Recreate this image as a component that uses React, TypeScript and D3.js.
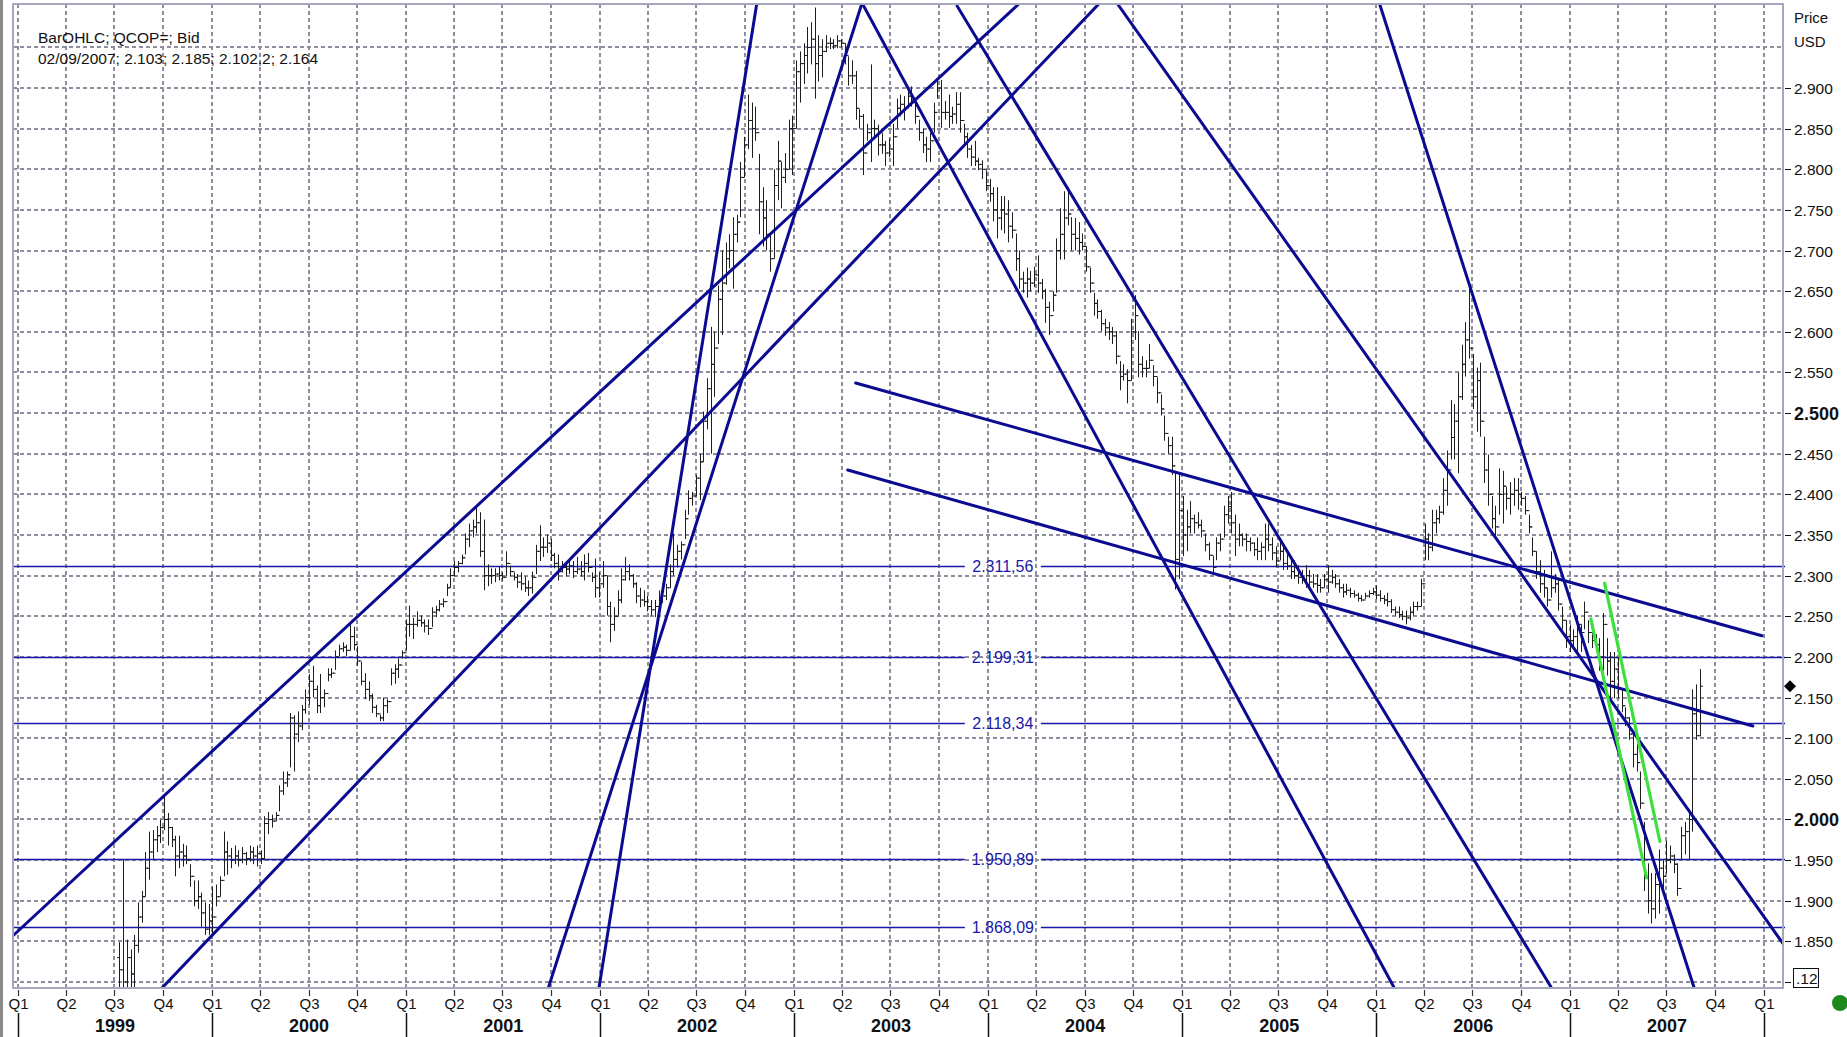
import React from "react";
import * as d3 from "d3";

type Bar = [number, number, number]; // high, low, close (open = previous close)

const bars1999: Bar[] = [
  [1.849,1.785,1.815],[1.951,1.785,1.800],[1.852,1.785,1.830],[1.840,1.785,1.810],[1.858,1.790,1.845],
  [1.898,1.836,1.880],[1.912,1.873,1.905],[1.960,1.905,1.940],[1.985,1.926,1.960],[1.987,1.950,1.975],
  [1.992,1.960,1.980],[2.000,1.971,1.990],[2.030,1.987,2.000],[2.008,1.968,1.990],[1.991,1.966,1.975],
  [1.980,1.930,1.955],[1.980,1.940,1.960],[1.970,1.942,1.955],[1.968,1.945,1.950],[1.945,1.917,1.930],
  [1.925,1.893,1.900],[1.925,1.890,1.905],[1.910,1.868,1.885],[1.898,1.858,1.865],[1.896,1.858,1.875],
];

const bars2000: Bar[] = [
  [1.917,1.860,1.880],[1.920,1.893,1.905],[1.930,1.905,1.925],[1.985,1.930,1.960],[1.973,1.932,1.955],
  [1.965,1.940,1.950],[1.968,1.945,1.955],[1.962,1.942,1.950],[1.966,1.946,1.958],[1.960,1.944,1.952],
  [1.968,1.948,1.960],[1.966,1.945,1.955],[1.968,1.942,1.958],[1.962,1.945,1.952],[2.004,1.950,1.995],
  [2.009,1.982,2.000],[2.006,1.990,1.998],[2.009,1.998,2.005],[2.042,2.010,2.035],[2.059,2.030,2.045],
  [2.059,2.040,2.055],[2.131,2.064,2.125],[2.128,2.059,2.105],[2.133,2.095,2.115],[2.141,2.110,2.135],
  [2.160,2.130,2.150],[2.179,2.141,2.170],[2.189,2.150,2.160],[2.165,2.131,2.140],[2.179,2.131,2.150],
  [2.160,2.138,2.155],[2.186,2.170,2.178],[2.186,2.174,2.180],[2.208,2.184,2.200],[2.215,2.201,2.210],
  [2.218,2.206,2.212],[2.215,2.201,2.208],[2.242,2.208,2.225],[2.237,2.208,2.215],[2.213,2.189,2.195],
  [2.194,2.165,2.170],[2.180,2.148,2.160],[2.170,2.146,2.152],[2.155,2.131,2.138],[2.141,2.126,2.130],
  [2.129,2.121,2.125],[2.150,2.121,2.140],[2.148,2.131,2.145],[2.186,2.165,2.180],[2.191,2.167,2.185],
  [2.198,2.174,2.190],[2.208,2.198,2.205],[2.246,2.208,2.240],
];

const bars2001: Bar[] = [
  [2.263,2.225,2.240],[2.248,2.222,2.240],[2.256,2.237,2.245],[2.251,2.237,2.242],[2.246,2.230,2.238],
  [2.246,2.227,2.235],[2.261,2.237,2.255],[2.263,2.249,2.258],[2.270,2.256,2.265],[2.272,2.261,2.268],
  [2.290,2.275,2.285],[2.309,2.285,2.300],[2.318,2.299,2.310],[2.318,2.304,2.315],[2.326,2.314,2.322],
  [2.352,2.326,2.345],[2.364,2.335,2.355],[2.369,2.347,2.360],[2.386,2.352,2.365],[2.378,2.323,2.330],
  [2.369,2.282,2.300],[2.314,2.287,2.300],[2.309,2.290,2.300],[2.309,2.292,2.302],[2.311,2.294,2.300],
  [2.304,2.294,2.298],[2.330,2.300,2.315],[2.312,2.299,2.305],[2.304,2.294,2.298],[2.302,2.285,2.292],
  [2.304,2.282,2.290],[2.299,2.280,2.285],[2.294,2.275,2.285],[2.305,2.278,2.298],[2.338,2.302,2.330],
  [2.362,2.318,2.335],[2.347,2.323,2.335],[2.350,2.328,2.340],[2.345,2.318,2.325],[2.328,2.309,2.315],
  [2.326,2.294,2.305],[2.318,2.304,2.310],[2.318,2.299,2.308],[2.321,2.302,2.312],[2.318,2.297,2.305],
  [2.323,2.302,2.308],[2.318,2.299,2.305],[2.326,2.294,2.315],[2.328,2.304,2.310],[2.304,2.292,2.298],
  [2.321,2.273,2.285],[2.304,2.273,2.290],
];

const bars2002: Bar[] = [
  [2.318,2.285,2.300],[2.300,2.251,2.262],[2.268,2.218,2.240],[2.261,2.232,2.250],[2.282,2.251,2.270],
  [2.309,2.266,2.295],[2.323,2.294,2.305],[2.314,2.294,2.300],[2.302,2.285,2.290],[2.292,2.266,2.275],
  [2.285,2.261,2.270],[2.282,2.262,2.268],[2.275,2.256,2.262],[2.270,2.251,2.258],[2.270,2.249,2.262],
  [2.282,2.258,2.272],[2.280,2.266,2.275],[2.290,2.270,2.285],[2.314,2.285,2.305],[2.352,2.300,2.320],
  [2.338,2.310,2.330],[2.342,2.320,2.338],[2.381,2.345,2.370],[2.405,2.375,2.395],[2.403,2.386,2.398],
  [2.424,2.398,2.420],[2.450,2.393,2.440],[2.502,2.440,2.490],[2.543,2.480,2.530],[2.606,2.450,2.560],
  [2.600,2.520,2.580],[2.657,2.585,2.640],[2.700,2.596,2.660],[2.710,2.658,2.690],[2.720,2.678,2.700],
  [2.741,2.653,2.720],[2.744,2.710,2.735],[2.809,2.741,2.790],[2.840,2.790,2.830],[2.892,2.825,2.860],
  [2.882,2.814,2.850],[2.877,2.835,2.845],[2.819,2.720,2.760],[2.778,2.705,2.740],[2.762,2.700,2.720],
  [2.720,2.674,2.690],[2.800,2.690,2.780],[2.835,2.762,2.810],[2.809,2.752,2.790],[2.820,2.783,2.800],
  [2.861,2.800,2.850],[2.866,2.793,2.850],
];

const bars2003: Bar[] = [
  [2.934,2.850,2.920],[2.945,2.882,2.930],[2.955,2.905,2.940],[2.975,2.918,2.950],[2.981,2.929,2.960],
  [2.999,2.887,2.930],[2.965,2.908,2.940],[2.960,2.913,2.945],[2.965,2.944,2.955],[2.962,2.948,2.955],
  [2.960,2.948,2.952],[2.965,2.949,2.958],[2.960,2.950,2.955],[2.955,2.929,2.940],[2.939,2.903,2.915],
  [2.934,2.905,2.915],[2.921,2.861,2.875],[2.874,2.850,2.865],[2.868,2.793,2.820],[2.856,2.835,2.845],
  [2.929,2.809,2.850],[2.861,2.840,2.850],[2.855,2.817,2.830],[2.845,2.819,2.830],[2.835,2.804,2.820],
  [2.838,2.815,2.825],[2.856,2.804,2.840],[2.887,2.850,2.875],[2.892,2.865,2.880],[2.890,2.860,2.875],
  [2.900,2.879,2.890],[2.902,2.877,2.885],[2.887,2.856,2.865],[2.861,2.835,2.845],[2.850,2.820,2.830],
  [2.840,2.809,2.825],[2.845,2.809,2.835],[2.882,2.845,2.870],[2.910,2.887,2.900],[2.910,2.851,2.870],
  [2.884,2.861,2.870],[2.892,2.851,2.865],[2.877,2.856,2.868],[2.895,2.856,2.880],[2.895,2.845,2.860],
  [2.856,2.830,2.840],[2.845,2.814,2.825],[2.830,2.804,2.815],[2.835,2.804,2.810],[2.814,2.799,2.806],
  [2.811,2.788,2.800],[2.799,2.773,2.780],
];

const bars2004: Bar[] = [
  [2.788,2.760,2.770],[2.778,2.736,2.750],[2.778,2.715,2.740],[2.767,2.725,2.750],[2.767,2.721,2.745],
  [2.762,2.710,2.730],[2.747,2.715,2.725],[2.721,2.675,2.690],[2.700,2.653,2.665],[2.674,2.648,2.660],
  [2.679,2.642,2.665],[2.675,2.650,2.660],[2.680,2.655,2.670],[2.694,2.648,2.660],[2.665,2.640,2.650],
  [2.653,2.611,2.630],[2.637,2.596,2.620],[2.650,2.625,2.645],[2.715,2.648,2.700],[2.752,2.689,2.720],
  [2.773,2.689,2.740],[2.778,2.731,2.745],[2.741,2.700,2.720],[2.740,2.700,2.715],[2.735,2.695,2.710],
  [2.721,2.700,2.705],[2.705,2.674,2.680],[2.679,2.648,2.660],[2.648,2.620,2.635],[2.640,2.616,2.625],
  [2.627,2.601,2.610],[2.616,2.595,2.605],[2.612,2.590,2.600],[2.606,2.585,2.595],[2.601,2.560,2.570],
  [2.564,2.528,2.545],[2.560,2.540,2.548],[2.554,2.512,2.540],[2.616,2.540,2.600],[2.645,2.590,2.620],
  [2.601,2.544,2.560],[2.570,2.544,2.555],[2.565,2.544,2.555],[2.585,2.555,2.565],[2.559,2.533,2.545],
  [2.544,2.512,2.525],[2.523,2.497,2.505],[2.497,2.466,2.475],[2.471,2.450,2.460],[2.471,2.424,2.435],
  [2.429,2.283,2.320],[2.426,2.296,2.380],
];

const bars2005: Bar[] = [
  [2.398,2.324,2.350],[2.381,2.330,2.360],[2.392,2.352,2.370],[2.375,2.352,2.365],[2.378,2.358,2.362],
  [2.369,2.347,2.355],[2.352,2.330,2.338],[2.341,2.319,2.325],[2.324,2.302,2.310],[2.347,2.319,2.340],
  [2.352,2.330,2.345],[2.386,2.347,2.375],[2.398,2.364,2.385],[2.403,2.352,2.365],[2.375,2.324,2.345],
  [2.364,2.336,2.350],[2.352,2.336,2.345],[2.352,2.330,2.342],[2.347,2.330,2.340],[2.341,2.324,2.332],
  [2.347,2.319,2.330],[2.341,2.319,2.335],[2.364,2.319,2.345],[2.364,2.330,2.338],[2.347,2.319,2.328],
  [2.336,2.310,2.318],[2.341,2.319,2.330],[2.336,2.307,2.315],[2.330,2.307,2.312],[2.324,2.296,2.305],
  [2.319,2.296,2.300],[2.313,2.290,2.298],[2.307,2.290,2.295],[2.313,2.285,2.300],[2.307,2.285,2.292],
  [2.302,2.285,2.290],[2.302,2.279,2.288],[2.296,2.279,2.285],[2.302,2.285,2.295],[2.313,2.279,2.292],
  [2.307,2.290,2.298],[2.302,2.285,2.290],[2.296,2.279,2.285],[2.290,2.273,2.280],[2.290,2.276,2.282],
  [2.285,2.273,2.278],[2.282,2.273,2.276],[2.279,2.268,2.272],[2.276,2.268,2.270],[2.279,2.271,2.275],
  [2.282,2.273,2.278],[2.285,2.276,2.280],
];

const bars2006: Bar[] = [
  [2.288,2.271,2.276],[2.282,2.268,2.272],[2.276,2.265,2.270],[2.279,2.262,2.268],[2.271,2.254,2.258],
  [2.262,2.251,2.255],[2.262,2.248,2.252],[2.257,2.245,2.250],[2.257,2.240,2.248],[2.262,2.245,2.255],
  [2.268,2.251,2.262],[2.268,2.257,2.262],[2.296,2.262,2.290],[2.364,2.319,2.345],[2.352,2.319,2.335],
  [2.381,2.330,2.365],[2.381,2.352,2.370],[2.386,2.364,2.378],[2.420,2.375,2.405],[2.454,2.386,2.430],
  [2.516,2.443,2.470],[2.511,2.443,2.490],[2.550,2.426,2.520],[2.584,2.516,2.560],[2.612,2.545,2.590],
  [2.658,2.567,2.580],[2.573,2.505,2.520],[2.556,2.477,2.540],[2.562,2.471,2.490],[2.471,2.414,2.430],
  [2.449,2.386,2.400],[2.398,2.358,2.370],[2.386,2.347,2.360],[2.432,2.375,2.400],[2.429,2.364,2.410],
  [2.409,2.381,2.395],[2.415,2.375,2.400],[2.420,2.386,2.405],[2.420,2.381,2.400],[2.403,2.386,2.395],
  [2.398,2.375,2.380],[2.375,2.352,2.360],[2.347,2.324,2.330],[2.330,2.296,2.305],[2.319,2.279,2.290],
  [2.307,2.273,2.285],[2.285,2.262,2.270],[2.330,2.273,2.285],[2.302,2.279,2.290],[2.296,2.257,2.265],
  [2.262,2.234,2.245],[2.245,2.211,2.225],[2.240,2.206,2.220],
];

const bars2007: Bar[] = [
  [2.234,2.211,2.225],[2.251,2.206,2.240],[2.240,2.206,2.230],[2.268,2.234,2.255],[2.245,2.217,2.230],
  [2.234,2.211,2.220],[2.228,2.206,2.215],[2.223,2.183,2.200],[2.254,2.183,2.240],[2.223,2.177,2.195],
  [2.206,2.149,2.170],[2.206,2.149,2.185],[2.200,2.149,2.160],[2.160,2.132,2.140],[2.138,2.115,2.125],
  [2.126,2.098,2.105],[2.109,2.064,2.080],[2.093,2.059,2.070],[2.059,2.013,2.020],[1.997,1.912,1.930],
  [1.946,1.884,1.900],[1.934,1.872,1.890],[1.934,1.878,1.920],[1.963,1.884,1.940],[1.951,1.912,1.930],
  [1.974,1.934,1.950],[1.968,1.946,1.955],[1.957,1.934,1.945],[1.946,1.906,1.915],[1.991,1.951,1.980],
  [1.997,1.957,1.985],[2.013,1.951,2.000],[2.160,1.985,2.130],[2.166,2.098,2.103],[2.185,2.1022,2.164],
];

const FIRST_WEEK = "1999-07-11";
const FIRST_OPEN = 1.830;
const LAST_OPEN = 2.103;

const priceTicks = [2.9,2.85,2.8,2.75,2.7,2.65,2.6,2.55,2.5,2.45,2.4,2.35,2.3,2.25,2.2,2.15,2.1,2.05,2.0,1.95,1.9,1.85];
const boldTicks = [2.5, 2.0];
const gridPrices = [2.95, ...priceTicks, 1.8];
const yearLabels = ["1999","2000","2001","2002","2003","2004","2005","2006","2007"];

const fibLevels = [2.31156, 2.19931, 2.11834, 1.95089, 1.86809];
const fibLabels = ["2.311,56", "2.199,31", "2.118,34", "1.950,89", "1.868,09"];
const FIB_LABEL_DATE = "2004-01-29";

const blueLines = [
  { from: "1998-12-22", p1: 1.8566, to: "2004-02-28", p2: 3.0034 },
  { from: "1999-09-29", p1: 1.7926, to: "2004-07-31", p2: 3.0057 },
  { from: "2001-09-26", p1: 1.7938, to: "2003-05-09", p2: 3.0046 },
  { from: "2001-12-30", p1: 1.7938, to: "2002-10-23", p2: 3.0046 },
  { from: "2003-05-09", p1: 3.0046, to: "2006-02-03", p2: 1.7938 },
  { from: "2003-11-04", p1: 3.0009, to: "2006-11-26", p2: 1.7938 },
  { from: "2004-09-01", p1: 3.0034, to: "2008-02-09", p2: 1.8443 },
  { from: "2006-01-08", p1: 3.0021, to: "2007-08-22", p2: 1.7938 },
  { from: "2003-04-27", p1: 2.537, to: "2007-12-28", p2: 2.226 },
  { from: "2003-04-12", p1: 2.430, to: "2007-12-11", p2: 2.115 },
];

const greenLines = [
  { from: "2007-02-09", p1: 2.2467, to: "2007-05-25", p2: 1.928 },
  { from: "2007-03-07", p1: 2.2905, to: "2007-06-19", p2: 1.9729 },
];

const headerLine1 = "BarOHLC; QCOP=; Bid";
const headerLine2 = "02/09/2007; 2.103; 2.185; 2.102,2; 2.164";
const LAST_CLOSE = 2.164;

const FONT = "'Liberation Sans', Arial, Helvetica, sans-serif";
const BLUE = "#0b0b92";
const FIB = "#1818a8";
const GRID = "#8e8e9e";

export default function App() {
  const parse = d3.utcParse("%Y-%m-%d");
  const L = 13, R = 1783, T = 4, B = 988;
  const x = d3.scaleUtc().domain([parse("1999-01-01")!, parse("2008-01-01")!]).range([18, 1764]);
  const y = d3.scaleLinear().domain([1.8, 2.9]).range([982, 88]);

  const bars = [...bars1999, ...bars2000, ...bars2001, ...bars2002, ...bars2003, ...bars2004, ...bars2005, ...bars2006, ...bars2007];
  const t0 = parse(FIRST_WEEK)!.getTime();
  const WEEK = 7 * 86400000;
  const barPath = bars.map((b, i) => {
    const [h, l, c] = b;
    const o = i === 0 ? FIRST_OPEN : (i === bars.length - 1 ? LAST_OPEN : bars[i - 1][2]);
    const xi = Math.round(x(new Date(t0 + i * WEEK))) + 0.5;
    return `M${xi},${y(h).toFixed(1)}V${y(l).toFixed(1)}M${xi - 2.5},${y(o).toFixed(1)}H${xi}M${xi},${y(c).toFixed(1)}H${xi + 2.5}`;
  }).join("");

  const quarters = d3.utcMonth.every(3)!.range(parse("1999-01-01")!, parse("2008-01-02")!);
  const years = d3.utcYear.range(parse("1999-01-01")!, parse("2008-01-02")!);
  const fmt = d3.format(".3f");
  const fibX = x(parse(FIB_LABEL_DATE)!);
  const line = d3.line<[number, number]>();

  const yLast = y(LAST_CLOSE);

  return (
    <svg width={1847} height={1037} style={{ position: "absolute", left: 0, top: 0, background: "#fff" }} fontFamily={FONT}>
      <defs>
        <clipPath id="plotClip"><rect x={L} y={T} width={R - L} height={B - T} /></clipPath>
      </defs>
      <rect x={0} y={0} width={1847} height={1037} fill="#fff" />
      <rect x={0} y={0} width={3} height={1037} fill="#8a8a8a" />

      {/* grid */}
      <g stroke={GRID} strokeWidth={2} strokeDasharray="4 3">
        {gridPrices.map((p) => (
          <line key={"h" + p} x1={L} x2={R} y1={Math.round(y(p))} y2={Math.round(y(p))} />
        ))}
        {quarters.map((q) => (
          <line key={"v" + q.getTime()} x1={Math.round(x(q))} x2={Math.round(x(q))} y1={T} y2={B} />
        ))}
      </g>

      {/* fib levels */}
      <g stroke={FIB} strokeWidth={1.5}>
        {fibLevels.map((p) => (
          <g key={"f" + p}>
            <line x1={L} x2={fibX - 38} y1={Math.round(y(p)) + 0.5} y2={Math.round(y(p)) + 0.5} />
            <line x1={fibX + 38} x2={R + 2} y1={Math.round(y(p)) + 0.5} y2={Math.round(y(p)) + 0.5} />
          </g>
        ))}
      </g>
      <g fill={FIB} fontSize={16} textAnchor="middle">
        {fibLevels.map((p, i) => (
          <text key={"fl" + p} x={fibX} y={y(p) + 6}>{fibLabels[i]}</text>
        ))}
      </g>

      {/* bars */}
      <g clipPath="url(#plotClip)">
        <path d={barPath} stroke="#1e1e1e" strokeWidth={1} fill="none" />
      </g>

      {/* trend lines */}
      <g clipPath="url(#plotClip)" fill="none" strokeLinecap="round">
        {blueLines.map((l, i) => (
          <path key={"b" + i} d={line([[x(parse(l.from)!), y(l.p1)], [x(parse(l.to)!), y(l.p2)]])!} stroke={BLUE} strokeWidth={3} />
        ))}
        {greenLines.map((l, i) => (
          <path key={"g" + i} d={line([[x(parse(l.from)!), y(l.p1)], [x(parse(l.to)!), y(l.p2)]])!} stroke="#3ee03e" strokeWidth={3.2} />
        ))}
      </g>

      {/* plot border */}
      <rect x={L} y={T} width={R - L} height={B - T} fill="none" stroke="#a6a6bd" strokeWidth={2} />

      {/* header */}
      <g fontSize={15.5} fill="#111">
        <text x={38} y={43}>{headerLine1}</text>
        <text x={38} y={64}>{headerLine2}</text>
      </g>

      {/* right axis */}
      <g fontSize={15} fill="#111">
        <text x={1794} y={23}>Price</text>
        <text x={1794} y={47}>USD</text>
      </g>
      <g>
        {priceTicks.map((p) => {
          const bold = boldTicks.includes(p);
          const yy = Math.round(y(p)) + 0.5;
          return (
            <g key={"t" + p}>
              <line x1={1785} x2={1791} y1={yy} y2={yy} stroke="#111" strokeWidth={1} />
              <text x={1794} y={yy + (bold ? 6.5 : 5.5)} fontSize={bold ? 18 : 15.5} fontWeight={bold ? "bold" : "normal"} fill="#111">{fmt(p)}</text>
            </g>
          );
        })}
        <line x1={1785} x2={1791} y1={Math.round(y(1.8)) + 0.5} y2={Math.round(y(1.8)) + 0.5} stroke="#111" />
        <rect x={1793.5} y={Math.round(y(1.8)) - 13.5} width={25} height={19} fill="none" stroke="#111" strokeWidth={1} />
        <text x={1796} y={Math.round(y(1.8)) + 1.5} fontSize={15.5} fill="#111">.12</text>
        <path d={`M1790,${yLast - 6}L1796,${yLast}L1790,${yLast + 6}L1784,${yLast}Z`} fill="#000" />
      </g>

      {/* bottom axis */}
      <g>
        {quarters.map((q) => {
          const xq = Math.round(x(q)) + 0.5;
          return (
            <g key={"q" + q.getTime()}>
              <line x1={xq} x2={xq} y1={990} y2={996} stroke="#333" strokeWidth={1.2} />
              <text x={xq} y={1008.5} fontSize={15} textAnchor="middle" fill="#111">{"Q" + (Math.floor(q.getUTCMonth() / 3) + 1)}</text>
            </g>
          );
        })}
        {years.map((yr) => {
          const xy = Math.round(x(yr)) + 0.5;
          return <line key={"ys" + yr.getTime()} x1={xy} x2={xy} y1={1013} y2={1037} stroke="#111" strokeWidth={1.5} />;
        })}
        {yearLabels.map((lab, i) => {
          const a = x(years[i]);
          const b = x(years[i + 1]);
          return (
            <text key={"yl" + lab} x={(a + b) / 2} y={1032} fontSize={18} fontWeight="bold" textAnchor="middle" fill="#111">{lab}</text>
          );
        })}
      </g>

      <circle cx={1840} cy={1003} r={8} fill="#1b8a1b" />
    </svg>
  );
}
